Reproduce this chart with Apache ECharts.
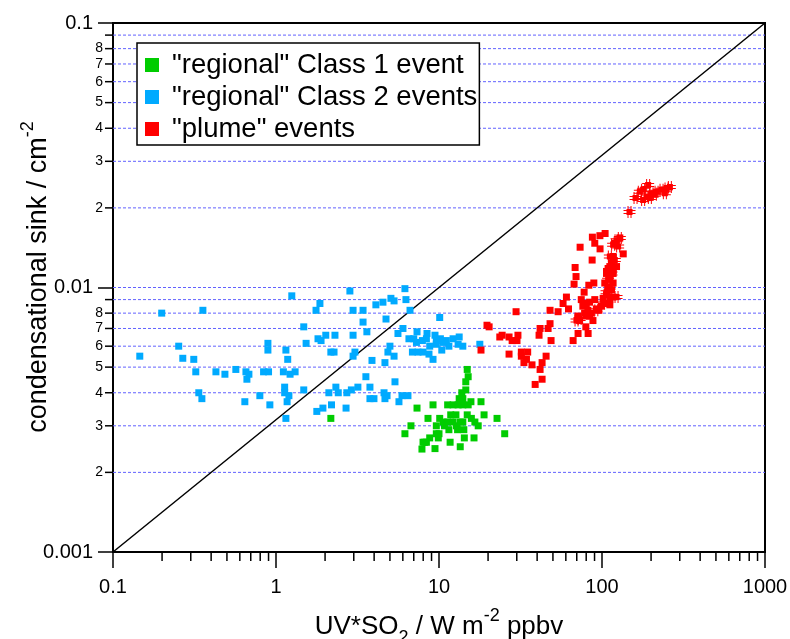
<!DOCTYPE html>
<html><head><meta charset="utf-8">
<script src="https://cdn.jsdelivr.net/npm/echarts@6/dist/echarts.min.js"></script>
<style>html,body{margin:0;padding:0;background:#fff}#c{width:790px;height:639px}</style>
</head><body><div id="c"></div>
<script>
const FONT = '"Liberation Sans", Arial, Helvetica, sans-serif';

const xRange = [0.1, 1000];
const yRange = [0.001, 0.1];
const xTickLabels = ['0.1', '1', '10', '100', '1000'];
const yTickLabels = ['0.001', '0.01', '0.1'];
const yMinorTicks = [0.002, 0.003, 0.004, 0.005, 0.006, 0.007, 0.008, 0.009,
                     0.02, 0.03, 0.04, 0.05, 0.06, 0.07, 0.08, 0.09];
const yMajorGrid = [0.01];
const yMinorLabelDigits = [2, 3, 4, 5, 6, 7, 8];
const xMinorTicks = [0.2, 0.3, 0.4, 0.5, 0.6, 0.7, 0.8, 0.9,
                     2, 3, 4, 5, 6, 7, 8, 9,
                     20, 30, 40, 50, 60, 70, 80, 90,
                     200, 300, 400, 500, 600, 700, 800, 900];

const seriesNames = ['"regional" Class 1 event', '"regional" Class 2 events', '"plume" events'];

const regionalClass1 = [
  [14.9,0.0049],[15.1,0.0046],[14.6,0.0044],[14.6,0.0041],[13.8,0.0040],[13.3,0.0038],[14.0,0.0038],
  [15.7,0.0037],[18.1,0.0037],[11.3,0.0036],[12.2,0.0036],[13.1,0.0036],[14.0,0.0036],[15.1,0.0036],
  [9.19,0.0036],[7.33,0.0035],[2.17,0.0032],[8.56,0.0032],[10.1,0.0032],[12.7,0.0033],[14.9,0.0033],
  [18.9,0.0033],[22.7,0.0032],[25.3,0.0028],[9.63,0.0030],[10.6,0.0031],[11.3,0.0031],[12.2,0.0031],
  [13.5,0.0031],[14.0,0.0031],[15.8,0.0032],[16.6,0.0031],[17.4,0.0030],[6.73,0.0030],[11.5,0.0029],
  [10.0,0.0028],[8.77,0.0027],[8.37,0.0026],[7.98,0.0026],[8.17,0.0026],[9.63,0.0028],[6.18,0.0028],
  [14.2,0.0029],[16.4,0.0027],[14.3,0.0027],[11.7,0.0026],[13.5,0.0025],[7.86,0.00245],[9.45,0.00246],
  [12.8,0.0030],[13.0,0.0029],[11.8,0.0033],[10.8,0.0030],[9.9,0.0027]
];

const regionalClass2 = [
  [0.146,0.0055],[0.199,0.0080],[0.356,0.0082],[0.253,0.0060],[0.268,0.0054],[0.313,0.00535],[0.322,0.0048],
  [0.336,0.0040],[0.351,0.0038],[0.428,0.0048],[0.486,0.0047],[0.567,0.0049],[0.654,0.0048],[0.682,0.0047],
  [0.663,0.0045],[0.644,0.0037],[0.796,0.0039],[0.917,0.0036],[0.839,0.0048],[0.90,0.0048],[0.892,0.00615],
  [0.892,0.0058],[1.25,0.0093],[1.15,0.0058],[1.18,0.00535],[1.11,0.0048],[1.22,0.0047],[1.31,0.0048],
  [1.13,0.0042],[1.13,0.0040],[1.20,0.0039],[1.17,0.0037],[1.15,0.0032],[1.48,0.0071],[1.53,0.00615],[1.48,0.0041],
  [2.84,0.0097],[6.18,0.0099],[1.86,0.0087],[1.76,0.0082],[4.10,0.0086],[4.53,0.0088],[5.07,0.0091],[5.30,0.0089],
  [6.27,0.0090],[2.97,0.0082],[3.42,0.0082],[6.64,0.0082],[4.73,0.0076],[3.42,0.0074],[10.1,0.0077],[3.61,0.0068],
  [6.01,0.0070],[5.60,0.0067],[7.33,0.0068],[8.44,0.0067],[2.02,0.0066],[2.30,0.0066],[2.97,0.0066],[1.81,0.0064],
  [1.89,0.0063],[5.00,0.0060],[4.86,0.0057],[5.30,0.0055],[3.05,0.0057],[2.97,0.0055],[2.17,0.0057],[2.27,0.0057],
  [3.88,0.0053],[4.66,0.0052],
  [6.54,0.0064],[7.00,0.0064],[7.27,0.0062],[7.91,0.0063],[8.37,0.0064],[9.45,0.0066],[10.2,0.0064],[10.6,0.0062],
  [11.1,0.0063],[12.2,0.0064],[13.3,0.0065],[14.0,0.0060],[13.1,0.0061],[11.5,0.0060],[10.4,0.0058],[9.63,0.0061],
  [8.77,0.0060],[8.68,0.0056],[9.19,0.00535],[7.98,0.0057],[7.43,0.0057],[6.87,0.0057],[17.8,0.0061],[9.63,0.0063],
  [3.56,0.0046],[5.37,0.0044],[2.33,0.0042],[2.41,0.0040],[2.11,0.0040],[2.72,0.0040],[2.90,0.0041],[3.18,0.0042],
  [3.77,0.0042],[3.77,0.0038],[3.99,0.0038],[4.60,0.0040],[4.80,0.0039],[4.66,0.0038],[5.93,0.0039],[6.45,0.0039],
  [5.68,0.0037],[2.19,0.0036],[1.94,0.0035],[1.78,0.0034],[2.69,0.0035]
];

const plumeSquares = [
  [19.7,0.0072],[20.3,0.0071],[18.1,0.0058],[23.6,0.0065],[29.7,0.0081],[24.4,0.0066],[26.9,0.0065],[30.5,0.0066],
  [28.1,0.0063],[30.1,0.0063],[26.9,0.0056],[32.0,0.0057],[35.0,0.0057],[32.0,0.0055],[34.4,0.00535],[33.2,0.0052],
  [37.2,0.0051],[45.4,0.0055],[42.9,0.0052],[41.7,0.0049],[42.9,0.0045],[38.9,0.0043],[41.7,0.0070],[46.7,0.0070],
  [41.1,0.0066],[48.0,0.0073],[48.7,0.0063],[48.0,0.0082],[53.8,0.0081],[66.5,0.0063],[71.3,0.0067],[82.2,0.0067],
  [79.6,0.0071],[60.5,0.0092],[57.7,0.0087],[62.3,0.0083],[67.4,0.0103],[77.7,0.0096],[83.0,0.0102],[89.1,0.0104],
  [69.3,0.0110],[68.4,0.0119],[73.4,0.0142],[87.0,0.0127],[87.3,0.0155],[97.1,0.0157],[104.5,0.0160],[90.3,0.0147],
  [97.3,0.0140],[135,0.0134],
  [74.6,0.0090],[80.1,0.0087],[83.9,0.0088],[90.3,0.0090],[76.3,0.0085],[81.9,0.0082],[86.0,0.0080],[92.3,0.0083],
  [99.0,0.0085],[106.6,0.0087],[111.7,0.0090],[117.0,0.0092],[114.4,0.0098],[109.0,0.0100],[104.0,0.0104],[117.0,0.0104],
  [111.7,0.0110],[117.0,0.0116],[122.8,0.0120],[114.4,0.0124],[109.0,0.0118],[106.6,0.0113],[80.1,0.0078],[72.9,0.0075],
  [71.1,0.0078],[88.0,0.0075],[83.9,0.0078],[78.2,0.0080],[95.7,0.0082],[101.6,0.0091],[106.6,0.0094],[111.7,0.0086],
  [128.6,0.0154],[119.8,0.0147],[117.0,0.0131],[111.7,0.0120],[106.6,0.0115],[117.0,0.0113]
];

const plumeCrosses = [
  [122.8,0.0151],[128.6,0.0154],[117.0,0.0145],[125.6,0.0143],[111.7,0.0131],[119.8,0.0127],[117.0,0.0120],
  [114.4,0.0113],[109.0,0.0107],[111.7,0.0100],[106.6,0.0096],[101.6,0.0087],[92.3,0.0082],[72.9,0.0076],
  [69.8,0.0075],[122.8,0.0092],[147.5,0.0193],[160.6,0.0218],[170.6,0.0230],[178.8,0.0234],[191.9,0.0244],
  [187.6,0.0221],[201.3,0.0227],[216.1,0.0230],[231.9,0.0234],[248.9,0.0237],[260.8,0.0240],[243.0,0.0227],
  [211.0,0.0224],[196.6,0.0218],[178.8,0.0214]
];

const diagonal = [[0.1, 0.001], [1000, 0.1]];

const COLORS = { c1: '#00cc00', c2: '#00aaff', plume: '#ff0000' };
const CROSS = 'path://M4,0L5,0L5,3L7,3L7,0L8,0L8,3L9,3L9,4L12,4L12,5L9,5L9,7L12,7L12,8L9,8L9,9L8,9L8,12L7,12L7,9L5,9L5,12L4,12L4,9L3,9L3,8L0,8L0,7L3,7L3,5L0,5L0,4L3,4L3,3L4,3Z';

// guide data: [x, y, kind] kind 0 = y minor tick+grid, 1 = x minor tick, 2 = grid only
const guideData = [];
yMinorTicks.forEach(v => guideData.push([xRange[0], v, 0]));
yMajorGrid.forEach(v => guideData.push([xRange[0], v, 2]));
xMinorTicks.forEach(v => guideData.push([v, yRange[0], 1]));

const chart = echarts.init(document.getElementById('c'), null, { renderer: 'canvas' });
chart.setOption({
  animation: false,
  backgroundColor: '#fff',
  textStyle: { fontFamily: FONT },
  grid: { left: 113, top: 23, right: 25, bottom: 87, containLabel: false, outerBoundsMode: 'none',
          show: true, borderColor: '#000', borderWidth: 2, backgroundColor: 'transparent' },
  xAxis: {
    type: 'log', logBase: 10, min: xRange[0], max: xRange[1],
    axisLine: { show: true, onZero: false, lineStyle: { color: '#000', width: 2 } },
    axisTick: { show: true, length: 16, lineStyle: { color: '#000', width: 1.5 } },
    axisLabel: { fontSize: 20, color: '#000', margin: 25, fontFamily: FONT,
      formatter: v => xTickLabels[Math.round(Math.log10(v)) + 1] },
    splitLine: { show: false },
    name: 'UV*SO{sub|2} / W m{sup|-2} ppbv',
    nameLocation: 'middle', nameGap: 55, nameMoveOverlap: false,
    nameTextStyle: { fontSize: 26, color: '#000', fontFamily: FONT, lineHeight: 40,
      rich: {
        sub: { fontSize: 18, lineHeight: 22, verticalAlign: 'bottom', fontFamily: FONT, color: '#000' },
        sup: { fontSize: 18, lineHeight: 18, verticalAlign: 'top', fontFamily: FONT, color: '#000' }
      } }
  },
  yAxis: {
    type: 'log', logBase: 10, min: yRange[0], max: yRange[1],
    axisLine: { show: true, onZero: false, lineStyle: { color: '#000', width: 2 } },
    axisTick: { show: true, length: 15, lineStyle: { color: '#000', width: 1.5 } },
    axisLabel: { fontSize: 20, color: '#000', margin: 20, fontFamily: FONT,
      formatter: v => yTickLabels[Math.round(Math.log10(v)) + 3] },
    splitLine: { show: false },
    name: 'condensational sink / cm{sup|-2}',
    nameLocation: 'middle', nameGap: 54, nameRotate: 90, nameMoveOverlap: false,
    nameTextStyle: { fontSize: 27, color: '#000', fontFamily: FONT, lineHeight: 40, padding: [0, 0, 0, 21],
      rich: {
        sup: { fontSize: 18, lineHeight: 18, verticalAlign: 'top', fontFamily: FONT, color: '#000' }
      } }
  },
  legend: {
    left: 137, top: 43, orient: 'vertical',
    data: seriesNames,
    icon: 'rect', itemWidth: 14, itemHeight: 14, itemGap: 4,
    padding: [8, 2, 2, 8],
    backgroundColor: '#fff', borderColor: '#000', borderWidth: 1.5,
    selectedMode: false,
    textStyle: { fontSize: 27.5, color: '#000', fontFamily: FONT, padding: [0, 0, 0, 8] }
  },
  series: [
    {
      type: 'custom', name: 'guides', silent: true, clip: false, z: 1,
      data: guideData, encode: { x: 0, y: 1 },
      renderItem: function (params, api) {
        const kind = api.value(2);
        if (kind === 1) {
          const p = api.coord([api.value(0), yRange[0]]);
          return { type: 'line', shape: { x1: p[0], y1: p[1], x2: p[0], y2: p[1] + 9 },
                   style: { stroke: '#000', lineWidth: 1.5 } };
        }
        const yv = api.value(1);
        const l = api.coord([xRange[0], yv]);
        const r = api.coord([xRange[1], yv]);
        const children = [{ type: 'line', shape: { x1: l[0], y1: l[1], x2: r[0], y2: r[1] },
          style: { stroke: '#6262ff', lineWidth: 1, lineDash: [3, 2] } }];
        if (kind === 0) {
          children.push({ type: 'line', shape: { x1: l[0] - 8, y1: l[1], x2: l[0], y2: l[1] },
            style: { stroke: '#000', lineWidth: 1.5 } });
          const mant = Math.round(yv / Math.pow(10, Math.floor(Math.log10(yv) + 1e-9)));
          if (yMinorLabelDigits.indexOf(mant) >= 0) {
            children.push({ type: 'text', x: l[0] - 10, y: l[1],
              style: { text: String(mant), align: 'right', verticalAlign: 'middle',
                       fontSize: 14, fontFamily: FONT, fill: '#000' } });
          }
        }
        return { type: 'group', children: children };
      }
    },
    {
      type: 'line', name: 'one-to-one', data: diagonal, showSymbol: false, symbol: 'none', silent: true, z: 2,
      lineStyle: { color: '#000', width: 1.5 }
    },
    {
      type: 'scatter', name: seriesNames[1], data: regionalClass2, symbol: 'rect', symbolSize: 7, z: 3,
      itemStyle: { color: COLORS.c2, opacity: 1 }
    },
    {
      type: 'scatter', name: seriesNames[0], data: regionalClass1, symbol: 'rect', symbolSize: 7, z: 4,
      itemStyle: { color: COLORS.c1, opacity: 1 }
    },
    {
      type: 'scatter', name: seriesNames[2], data: plumeSquares, symbol: 'rect', symbolSize: 7, z: 5,
      itemStyle: { color: COLORS.plume, opacity: 1 }
    },
    {
      type: 'scatter', name: seriesNames[2], data: plumeCrosses, symbol: CROSS, symbolSize: 12, z: 6,
      itemStyle: { color: COLORS.plume, opacity: 1 }
    }
  ]
});
</script>
</body></html>
